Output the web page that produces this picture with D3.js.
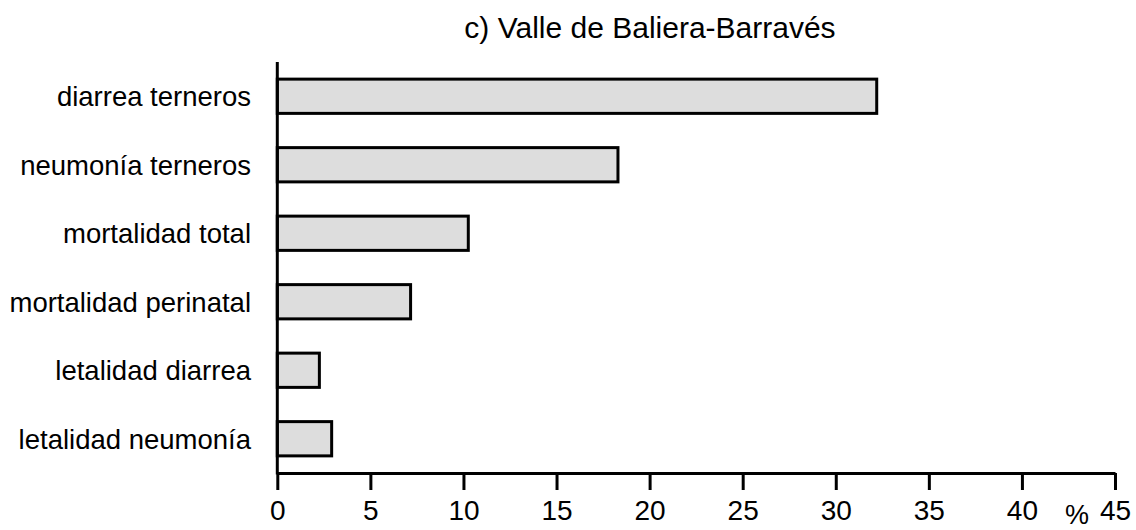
<!DOCTYPE html>
<html>
<head>
<meta charset="utf-8">
<script src="https://cdn.jsdelivr.net/npm/d3@7"></script>
<style>
  body { margin: 0; background: #fff; }
  text { font-family: "Liberation Sans", Arial, sans-serif; fill: #000; }
</style>
</head>
<body>
<svg id="chart" width="1136" height="530"></svg>
<script>
const categories = ["diarrea terneros", "neumonía terneros", "mortalidad total",
  "mortalidad perinatal", "letalidad diarrea", "letalidad neumonía"];
const values = [32.2, 18.3, 10.26, 7.16, 2.26, 2.92];
const tickValues = [0, 5, 10, 15, 20, 25, 30, 35, 40, 45];
const title = "c) Valle de Baliera-Barravés";

const svg = d3.select("#chart");

const x = d3.scaleLinear().domain([0, 45]).range([277.3, 1115]);
const y = d3.scaleBand().domain(categories).range([62, 473])
  .paddingInner(0.5).paddingOuter(0.25);

// title
svg.append("text")
  .attr("x", 650)
  .attr("y", 38)
  .attr("text-anchor", "middle")
  .attr("font-size", "30px")
  .text(title);

// bars
svg.selectAll("rect.bar")
  .data(values)
  .enter().append("rect")
  .attr("class", "bar")
  .attr("x", x(0))
  .attr("y", (d, i) => y(categories[i]))
  .attr("width", d => x(d) - x(0))
  .attr("height", y.bandwidth())
  .attr("fill", "#dddddd")
  .attr("stroke", "#000")
  .attr("stroke-width", 3);

// category labels
svg.selectAll("text.cat")
  .data(categories)
  .enter().append("text")
  .attr("class", "cat")
  .attr("x", 251)
  .attr("y", d => y(d) + y.bandwidth() / 2 + 10)
  .attr("text-anchor", "end")
  .attr("font-size", "27.5px")
  .text(d => d);

// x axis
const xAxis = d3.axisBottom(x)
  .tickValues(tickValues)
  .tickSize(17)
  .tickSizeOuter(0)
  .tickPadding(10);

const gx = svg.append("g")
  .attr("transform", "translate(0,473)")
  .call(xAxis);
gx.select(".domain").attr("stroke", "#000").attr("stroke-width", 3);
gx.selectAll(".tick line").attr("stroke", "#000").attr("stroke-width", 3);
gx.selectAll(".tick text")
  .attr("font-size", "28px")
  .attr("font-family", "Liberation Sans, Arial, sans-serif")
  .attr("fill", "#000");

// y axis line
svg.append("line")
  .attr("x1", x(0)).attr("x2", x(0))
  .attr("y1", 62).attr("y2", 474.5)
  .attr("stroke", "#000")
  .attr("stroke-width", 3);

// unit label
svg.append("text")
  .attr("x", 1077)
  .attr("y", 524)
  .attr("text-anchor", "middle")
  .attr("font-size", "27px")
  .text("%");
</script>
</body>
</html>
